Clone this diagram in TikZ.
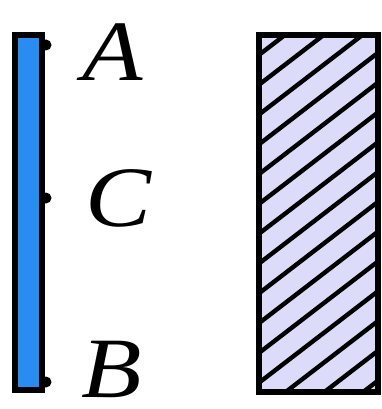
\documentclass[tikz,border=0pt]{standalone}
\usepackage{fontspec}
\setmainfont{Liberation Serif}
\usepackage{tikz}
\usetikzlibrary{calc}
\definecolor{AzulVarilla}{RGB}{40,140,240}
\definecolor{LilaPared}{RGB}{220,220,250}

\begin{document}
\begin{tikzpicture}[x=1pt,y=-1pt,
    punto/.style={circle,fill=black,inner sep=0pt,minimum size=11pt},
    letra/.style={font=\fontsize{86}{92}\selectfont\itshape,inner sep=0pt,xscale=1.15}]
  \useasboundingbox (0,0) rectangle (382,409);

  % varilla
  \draw[line width=6pt,fill=AzulVarilla] (15,35) rectangle (42,390);
  \node[punto] (A) at (46,45) {};
  \node[punto] (C) at (46,198) {};
  \node[punto] (B) at (46,382) {};
  \node[letra] (lA) at (113,52) {A};
  \node[letra] (lC) at (118,198) {C};
  \node[letra] (lB) at (112,369) {B};

  % pared rayada
  \fill[LilaPared] (259,35) rectangle (378,392);
  \begin{scope}
    \clip (259,35) rectangle (378,392);
    \foreach \k in {0,...,15}
      \draw[line width=4.4pt] (255,58+29.8*\k) -- ++(130,-100);
  \end{scope}
  \draw[line width=5.5pt] (259,35) rectangle (378,392);
\end{tikzpicture}
\end{document}
